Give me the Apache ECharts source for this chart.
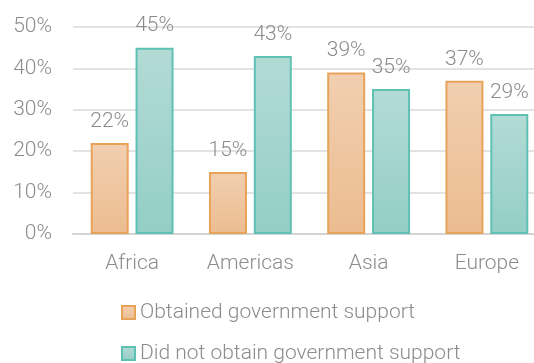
<!DOCTYPE html>
<html>
<head>
<meta charset="utf-8">
<style>
  html, body { margin: 0; padding: 0; background: #ffffff; }
  #chart { width: 534px; height: 363px; }
</style>
<script src="https://cdn.jsdelivr.net/npm/echarts@6/dist/echarts.min.js"></script>
</head>
<body>
<div id="chart"></div>
<script>
// Share of respondents by region (%)
const regions = ['Africa', 'Americas', 'Asia', 'Europe'];
const obtainedSupport = [22, 15, 39, 37];
const notObtainedSupport = [45, 43, 35, 29];
const seriesNames = ['Obtained government support', 'Did not obtain government support'];
const yTicks = { min: 0, max: 50, interval: 10 };

const FONT = 'Roboto';
const TEXT_COLOR = '#8c8c8c';
const FONT_SIZE = 21;

function vGradient(top, bottom) {
  return new echarts.graphic.LinearGradient(0, 0, 0, 1, [
    { offset: 0, color: top },
    { offset: 1, color: bottom }
  ]);
}

const chart = echarts.init(document.getElementById('chart'), null, { renderer: 'canvas' });

const labelStyle = {
  show: true,
  position: 'top',
  distance: 11,
  formatter: p => p.value + '%',
  color: TEXT_COLOR,
  fontFamily: FONT,
  fontWeight: 300,
  fontSize: FONT_SIZE
};

function legendFor(name, top) {
  return {
    orient: 'vertical',
    left: 116,
    top: top,
    itemWidth: 13,
    itemHeight: 13,
    icon: 'rect',
    textStyle: { color: TEXT_COLOR, fontFamily: FONT, fontWeight: 300, fontSize: FONT_SIZE },
    data: [name]
  };
}

chart.setOption({
  animation: false,
  backgroundColor: '#ffffff',
  // plot area runs a little past the right edge of the canvas
  grid: { left: 73, width: 473, top: 27, bottom: 129, outerBoundsMode: 'none', containLabel: false },
  xAxis: {
    type: 'category',
    data: regions,
    axisLine: { show: true, lineStyle: { color: '#d4d4d4', width: 2 } },
    axisTick: { show: false },
    axisLabel: {
      color: TEXT_COLOR, fontFamily: FONT, fontWeight: 300, fontSize: FONT_SIZE,
      margin: 19
    }
  },
  yAxis: {
    type: 'value',
    min: yTicks.min,
    max: yTicks.max,
    interval: yTicks.interval,
    axisLine: { show: false },
    axisTick: { show: false },
    splitLine: { lineStyle: { color: '#dadada', width: 1.5 } },
    axisLabel: {
      formatter: v => v + '%',
      color: TEXT_COLOR, fontFamily: FONT, fontWeight: 300, fontSize: FONT_SIZE,
      margin: 21
    }
  },
  legend: [
    legendFor(seriesNames[0], 297),
    legendFor(seriesNames[1], 338)
  ],
  series: [
    {
      name: seriesNames[0],
      type: 'bar',
      data: obtainedSupport,
      barWidth: 38,
      barGap: '18%',
      itemStyle: {
        color: vGradient('#f1cfb0', '#ecbc90'),
        borderColor: '#e8a35a',
        borderWidth: 2
      },
      label: labelStyle
    },
    {
      name: seriesNames[1],
      type: 'bar',
      data: notObtainedSupport,
      barWidth: 38,
      itemStyle: {
        color: vGradient('#b3dbd6', '#93cec5'),
        borderColor: '#5fc1b4',
        borderWidth: 2
      },
      label: labelStyle
    }
  ]
});
</script>
</body>
</html>
